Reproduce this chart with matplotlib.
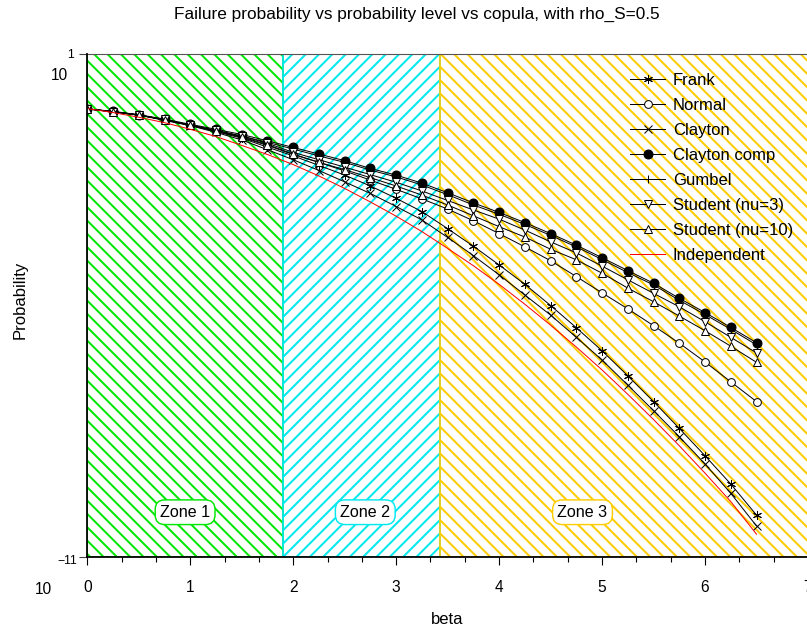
import numpy as np
import matplotlib
matplotlib.use('Agg')
import matplotlib.pyplot as plt
from matplotlib.ticker import MultipleLocator, NullLocator, NullFormatter
from matplotlib.transforms import blended_transform_factory

W, H, DPI = 807, 632, 80

plt.rcParams['font.family'] = ['Liberation Sans', 'DejaVu Sans']
plt.rcParams['hatch.linewidth'] = 1.8

beta = [0.0, 0.25, 0.5, 0.75, 1.0, 1.25, 1.5, 1.75, 2.0, 2.25, 2.5, 2.75, 3.0,
        3.25, 3.5, 3.75, 4.0, 4.25, 4.5, 4.75, 5.0, 5.25, 5.5, 5.75, 6.0, 6.25, 6.5]

frank = [0.49, 0.42, 0.35, 0.27, 0.20, 0.141, 0.098, 0.060, 0.037, 0.022, 0.0129,
         7.1e-3, 3.6e-3, 1.74e-3, 6.8e-4, 2.6e-4, 9.3e-5, 3.2e-5, 1.0e-5, 2.95e-6,
         8.3e-7, 2.1e-7, 5.1e-8, 1.17e-8, 2.6e-9, 5.5e-10, 1.0e-10]
normal = [0.49, 0.42, 0.35, 0.27, 0.20, 0.145, 0.102, 0.066, 0.040, 0.026, 0.0162,
          9.8e-3, 5.9e-3, 3.5e-3, 2.0e-3, 1.05e-3, 5.2e-4, 2.5e-4, 1.17e-4, 4.9e-5,
          2.0e-5, 8.3e-6, 3.3e-6, 1.26e-6, 4.5e-7, 1.51e-7, 5.1e-8]
clayton = [0.49, 0.42, 0.35, 0.26, 0.195, 0.135, 0.089, 0.052, 0.030, 0.0166, 8.9e-3,
           4.7e-3, 2.3e-3, 1.1e-3, 4.2e-4, 1.55e-4, 5.4e-5, 1.78e-5, 5.9e-6, 1.74e-6,
           5.0e-7, 1.26e-7, 3.1e-8, 7.4e-9, 1.66e-9, 3.3e-10, 5.5e-11]
clayton_comp = [0.49, 0.43, 0.355, 0.28, 0.21, 0.16, 0.12, 0.085, 0.059, 0.041, 0.0285,
                0.0186, 0.0129, 8.3e-3, 4.9e-3, 2.8e-3, 1.66e-3, 9.5e-4, 5.2e-4, 2.75e-4,
                1.38e-4, 6.8e-5, 3.4e-5, 1.48e-5, 6.8e-6, 3.0e-6, 1.29e-6]
gumbel = [0.49, 0.42, 0.35, 0.27, 0.20, 0.15, 0.11, 0.078, 0.054, 0.037, 0.026,
          0.017, 0.0117, 7.5e-3, 4.4e-3, 2.5e-3, 1.5e-3, 8.6e-4, 4.7e-4, 2.5e-4,
          1.25e-4, 6.1e-5, 3.1e-5, 1.33e-5, 6.1e-6, 2.7e-6, 1.15e-6]
student3 = [0.49, 0.42, 0.35, 0.275, 0.20, 0.15, 0.11, 0.074, 0.045, 0.030, 0.020,
            0.0132, 8.7e-3, 5.4e-3, 3.2e-3, 1.9e-3, 1.15e-3, 6.3e-4, 3.3e-4, 1.8e-4,
            8.7e-5, 4.1e-5, 1.95e-5, 9.3e-6, 4.1e-6, 1.74e-6, 7.4e-7]
student10 = [0.49, 0.42, 0.35, 0.27, 0.20, 0.148, 0.105, 0.069, 0.041, 0.026, 0.0174,
             0.0112, 7.1e-3, 4.3e-3, 2.5e-3, 1.38e-3, 7.6e-4, 4.3e-4, 2.2e-4, 1.23e-4,
             5.9e-5, 2.6e-5, 1.23e-5, 5.6e-6, 2.5e-6, 1.07e-6, 4.4e-7]
independent = [0.50, 0.40, 0.31, 0.23, 0.16, 0.107, 0.066, 0.040, 0.023, 0.0123, 6.2e-3,
               2.95e-3, 1.35e-3, 5.8e-4, 2.3e-4, 8.9e-5, 3.2e-5, 1.07e-5, 3.4e-6, 1.02e-6,
               2.9e-7, 7.6e-8, 1.9e-8, 4.5e-9, 1.0e-9, 2.1e-10, 3.5e-11]

zone_edges = [0.0, 1.9, 3.43, 7.0]
zone_names = ['Zone 1', 'Zone 2', 'Zone 3']
zone_label_x = [0.95, 2.70, 4.81]
zone_colors = ['#00e600', '#00e8f0', '#ffcc00']
zone_hatches = ['\\\\', '//', '\\\\']


def fx(px):
    return px / W


def fy(py):
    return 1 - py / H


fig = plt.figure(figsize=(W / DPI, H / DPI), dpi=DPI)
ax_left, ax_right, ax_top, ax_bottom = 87.3, 808.0, 54.0, 557.0
ax = fig.add_axes([fx(ax_left), fy(ax_bottom), (ax_right - ax_left) / W, (ax_bottom - ax_top) / H])

# hatched zones
for i in range(3):
    ax.axvspan(zone_edges[i], zone_edges[i + 1], facecolor='none', edgecolor=zone_colors[i],
               hatch=zone_hatches[i], linewidth=1.5, zorder=0)

trans = blended_transform_factory(ax.transData, ax.transAxes)
for i in range(3):
    ax.text(zone_label_x[i], 0.089, zone_names[i], transform=trans, ha='center', va='center',
            fontsize=14.5, zorder=5,
            bbox=dict(boxstyle='round,pad=0.3,rounding_size=0.6', facecolor='white',
                      edgecolor=zone_colors[i], linewidth=1.3))

lw = 0.9
ms = 7
ax.plot(beta, frank, color='black', lw=lw, marker=(6, 2, 0), ms=ms + 1, mew=0.9, label='Frank')
ax.plot(beta, normal, color='black', lw=lw, marker='o', ms=ms, mfc='white', mew=0.9, label='Normal')
ax.plot(beta, clayton, color='black', lw=lw, marker='x', ms=ms, mew=0.9, label='Clayton')
ax.plot(beta, clayton_comp, color='black', lw=lw, marker='o', ms=ms + 1, mfc='black', label='Clayton comp')
ax.plot(beta, gumbel, color='black', lw=lw, marker='+', ms=ms + 1, mew=0.9, label='Gumbel')
ax.plot(beta, student3, color='black', lw=lw, marker='v', ms=ms + 1, mfc='white', mew=0.9, label='Student (nu=3)')
ax.plot(beta, student10, color='black', lw=lw, marker='^', ms=ms + 1, mfc='white', mew=0.9, label='Student (nu=10)')
ax.plot(beta, independent, color='red', lw=lw, label='Independent')

ax.set_yscale('log')
ax.set_xlim(0, 7)
ax.set_ylim(1e-11, 10)

ax.set_yticks([1e-11, 10])
ax.yaxis.set_major_formatter(NullFormatter())
ax.yaxis.set_minor_locator(NullLocator())
ax.xaxis.set_major_locator(MultipleLocator(1))
ax.xaxis.set_minor_locator(MultipleLocator(1 / 3))
ax.tick_params(axis='x', which='major', length=7, width=1, labelsize=14, pad=14, direction='out')
ax.tick_params(axis='x', which='minor', length=4.5, width=1, direction='out')
ax.tick_params(axis='y', which='major', length=7, width=1, direction='out', color='#444444')

for side in ['left', 'bottom']:
    ax.spines[side].set_linewidth(1.6)
    ax.spines[side].set_zorder(6)
ax.spines['top'].set_color('#555555')
ax.spines['top'].set_linewidth(1.0)
ax.spines['right'].set_visible(False)

# y tick labels in base/exponent layout
fig.text(fx(59), fy(75), '10', fontsize=14, ha='center', va='center')
fig.text(fx(71), fy(55), '1', fontsize=11, ha='center', va='center')
fig.text(fx(43), fy(589), '10', fontsize=14, ha='center', va='center')
fig.text(fx(67), fy(561), '\u221211', fontsize=11, ha='center', va='center')

fig.text(fx(417), fy(14), 'Failure probability vs probability level vs copula, with rho_S=0.5',
         fontsize=15.5, ha='center', va='center')
fig.text(fx(447), fy(620), 'beta', fontsize=15, ha='center', va='center')
fig.text(fx(20), fy(300), 'Probability', fontsize=15, ha='center', va='center', rotation=90)

ax.legend(loc='upper left', bbox_to_anchor=(fx(630), fy(73)), bbox_transform=fig.transFigure,
          frameon=False, fontsize=15, borderpad=0, borderaxespad=0, handlelength=2.1,
          handletextpad=0.46, labelspacing=0.6)

fig.savefig('out.png', dpi=DPI)
